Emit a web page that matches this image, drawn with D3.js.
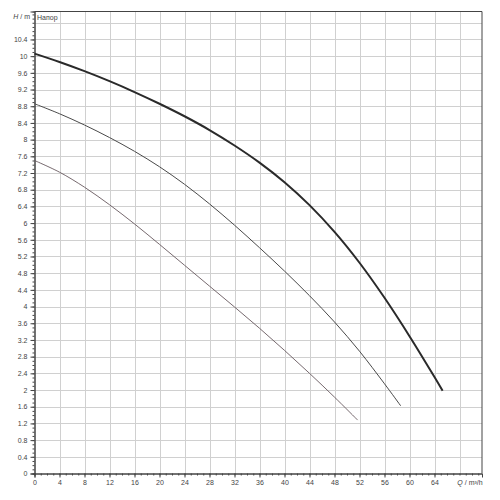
<!DOCTYPE html>
<html><head><meta charset="utf-8">
<script src="https://cdn.jsdelivr.net/npm/d3@7"></script>
<style>body{margin:0;background:#fff}svg{display:block}text{font-family:"Liberation Sans",Arial,sans-serif;}</style>
</head><body><svg id="c" width="500" height="500"></svg>
<script>
const q1 = [0,4,8,12,16,20,24,28,32,36,40,44,48,52,56,60,64,65.3];
const h1 = [10.06,9.86,9.64,9.40,9.14,8.86,8.56,8.23,7.86,7.45,6.98,6.43,5.79,5.05,4.21,3.29,2.31,1.98];
const q2 = [0,4,8,12,16,20,24,28,32,36,40,44,48,52,56,58.6];
const h2 = [8.86,8.62,8.35,8.05,7.72,7.35,6.93,6.46,5.95,5.41,4.85,4.26,3.63,2.93,2.15,1.62];
const q3 = [0,4,8,12,16,20,24,28,32,36,40,44,48,51.7];
const h3 = [7.50,7.22,6.86,6.44,5.98,5.49,4.99,4.49,3.99,3.48,2.95,2.40,1.83,1.28];
const xTicks = d3.range(0, 65, 4);
const yTicks = d3.range(0, 27).map(i => +(i*0.4).toFixed(1));
const yLabel = "H / m", xLabel = "Q / m³/h", seriesLabel = "Напор";

const svg = d3.select("#c");
const L = 34.5, R = 482, T = 11.5, B = 473.5;
const x = d3.scaleLinear().domain([0, 71.6]).range([L, R]);
const y = d3.scaleLinear().domain([0, 11.07]).range([B, T]);

// grid
const g = svg.append("g");
g.selectAll(".vx").data(d3.range(4, 71, 4)).join("line")
  .attr("x1", d => Math.round(x(d))+0.5).attr("x2", d => Math.round(x(d))+0.5)
  .attr("y1", T).attr("y2", B).attr("stroke", "#d0d0d0").attr("stroke-width", 1);
g.selectAll(".hy").data(d3.range(1, 28).map(i => i*0.4)).join("line")
  .attr("y1", d => Math.round(y(d))+0.5).attr("y2", d => Math.round(y(d))+0.5)
  .attr("x1", L).attr("x2", R).attr("stroke", "#d0d0d0").attr("stroke-width", 1);

// axes
const xAxis = d3.axisBottom(x).tickValues(xTicks).tickSize(4).tickFormat(d3.format("d"));
svg.append("g").attr("transform", `translate(0,${B})`).call(xAxis);
const xMinor = d3.axisBottom(x).tickValues(d3.range(0, 72, 1)).tickSize(2).tickFormat("");
svg.append("g").attr("transform", `translate(0,${B})`).call(xMinor);
const yAxis = d3.axisLeft(y).tickValues(yTicks).tickSize(4).tickFormat(d => String(d));
svg.append("g").attr("transform", `translate(${L},0)`).call(yAxis);
const yMinor = d3.axisLeft(y).tickValues(d3.range(0, 111).map(i => i*0.1)).tickSize(2).tickFormat("");
svg.append("g").attr("transform", `translate(${L},0)`).call(yMinor);
svg.selectAll(".domain").attr("stroke", "#444");
svg.selectAll(".tick line").attr("stroke", "#444");
svg.selectAll(".tick text").attr("fill", "#444").style("font-size", "7px").style("font-family", "Liberation Sans, Arial, sans-serif");

// frame top/right
svg.append("line").attr("x1", L).attr("x2", R).attr("y1", T).attr("y2", T).attr("stroke", "#444");
svg.append("line").attr("x1", R).attr("x2", R).attr("y1", T).attr("y2", B).attr("stroke", "#444");

// curves
const line = d3.line().x(d => x(d[0])).y(d => y(d[1])).curve(d3.curveCatmullRom);
const mk = (q, h) => q.map((v, i) => [v, h[i]]);
svg.append("path").attr("d", line(mk(q3, h3))).attr("fill", "none").attr("stroke", "#66585e").attr("stroke-width", 0.9);
svg.append("path").attr("d", line(mk(q2, h2))).attr("fill", "none").attr("stroke", "#4a4a4a").attr("stroke-width", 1);
svg.append("path").attr("d", line(mk(q1, h1))).attr("fill", "none").attr("stroke", "#2a2a2a").attr("stroke-width", 2);

// labels
svg.append("text").attr("x", 30).attr("y", 18.5).attr("text-anchor", "end").attr("fill", "#444").style("font-size", "7px")
  .html('<tspan font-style="italic">H</tspan> / m');
svg.append("text").attr("x", 37).attr("y", 20).attr("fill", "#444").style("font-size", "7px").text(seriesLabel);
svg.append("text").attr("x", 470).attr("y", 485).attr("text-anchor", "middle").attr("fill", "#444").style("font-size", "7px")
  .html('<tspan font-style="italic">Q</tspan> / m³/h');
</script></body></html>
